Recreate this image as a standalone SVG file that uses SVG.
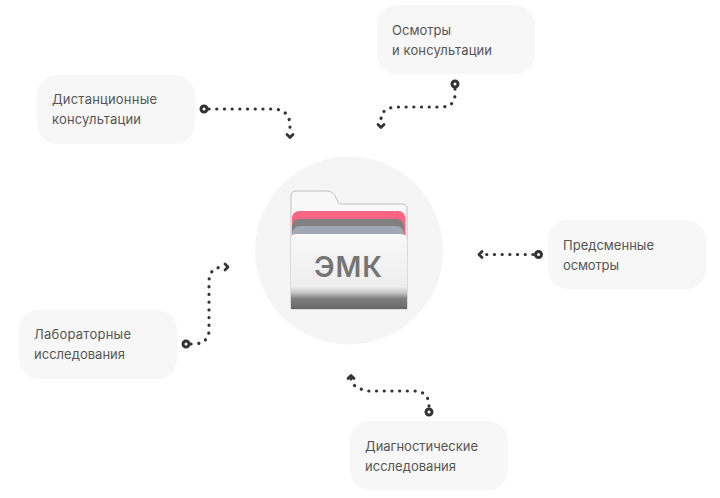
<svg xmlns="http://www.w3.org/2000/svg" width="720" height="498" viewBox="0 0 720 498">
<style>
.box{fill:#f7f7f7}
.t{font-family:"Inter","Noto Sans",sans-serif;font-size:13px;fill:#555}
.c{fill:none;stroke:#333;stroke-width:3.2;stroke-linecap:round;stroke-dasharray:.1 7.6}
.o{fill:#fff;stroke:#333;stroke-width:3}
.h{fill:none;stroke:#333;stroke-width:2.8;stroke-linecap:round;stroke-linejoin:round}
</style>
<defs>
<linearGradient id="f" x1="0" y1="0" x2="0" y2="1">
<stop offset="0" stop-color="#f8f8f8"/><stop offset=".7" stop-color="#eeeeee"/><stop offset=".78" stop-color="#c8c8c8"/><stop offset=".86" stop-color="#808080"/><stop offset="1" stop-color="#686868"/>
</linearGradient>
</defs>
<rect width="720" height="498" fill="#fff"/>
<g id="connectors">
<path class="c" d="M209 109H272Q290 109 290 126V133"/><path class="h" d="M287 134.500L290 137.500L293 134.500"/><circle class="o" cx="204" cy="109" r="3"/>
<path class="c" d="M455 89V94Q455 107 441 107H398Q381 107 381 120V122"/><path class="h" d="M378 124.500L381 127.500L384 124.500"/><circle class="o" cx="455" cy="84" r="3"/>
<path class="c" d="M533 254.500H484"/><path class="h" d="M482 251.500L479 254.500L482 257.500"/><circle class="o" cx="538.500" cy="254.500" r="3"/>
<path class="c" d="M191 344H196Q209 342 209 330V282Q209 267 224 267"/><path class="h" d="M225 264L228 267L225 270"/><circle class="o" cx="186" cy="344" r="3"/>
<path class="c" d="M429 406V403Q427 391 414 391H368Q352 388 351 379"/><path class="h" d="M348 378.500L351 375.500L354 378.500"/><circle class="o" cx="429" cy="412" r="3"/>
</g>
<g id="node-dist"><rect class="box" x="37" y="75" width="158" height="69" rx="20"/><text class="t" x="52" y="104" textLength="105">Дистанционные</text><text class="t" x="52" y="124" textLength="89">консультации</text></g>
<g id="node-osm"><rect class="box" x="377" y="5" width="158" height="69" rx="20"/><text class="t" x="392" y="35" textLength="59">Осмотры</text><text class="t" x="392" y="55" textLength="100">и консультации</text></g>
<g id="node-pred"><rect class="box" x="548" y="220" width="158" height="69" rx="20"/><text class="t" x="563" y="250" textLength="91">Предсменные</text><text class="t" x="563" y="270" textLength="56">осмотры</text></g>
<g id="node-lab"><rect class="box" x="19" y="310" width="158" height="69" rx="20"/><text class="t" x="34" y="339" textLength="97">Лабораторные</text><text class="t" x="34" y="359" textLength="91">исследования</text></g>
<g id="node-diag"><rect class="box" x="350" y="421" width="158" height="69" rx="20"/><text class="t" x="365" y="451" textLength="113">Диагностические</text><text class="t" x="365" y="471" textLength="91">исследования</text></g>
<g id="node-emk">
<circle cx="349" cy="250.500" r="94" fill="#f5f5f5"/>
<path d="M291 196Q291 191 296 191H326Q334 191 336 198L338 202Q339 204 342 204H402Q407 204 407 208V309H291Z" fill="#f8f8f8" stroke="#c0c0c0" stroke-width="1"/>
<path d="M292 219Q292 211 300 211H398Q405 211 405.500 219V235H292Z" fill="#fb6482"/>
<path d="M292 228Q292 219 300 219H396Q404 219 404 228V240H292Z" fill="#808080"/>
<path d="M292 236Q292 226 300 226H396Q404 226 404 236V244H292Z" fill="#a0a8b6"/>
<path d="M291 309V239Q291 234 296 234H400Q407 234 407 241V309Z" fill="url(#f)"/>
<text x="348" y="276.500" text-anchor="middle" font-family="Inter,'Noto Sans',sans-serif" font-size="28" font-weight="600" textLength="68" fill="#757575">ЭМК</text>
</g>
</svg>
